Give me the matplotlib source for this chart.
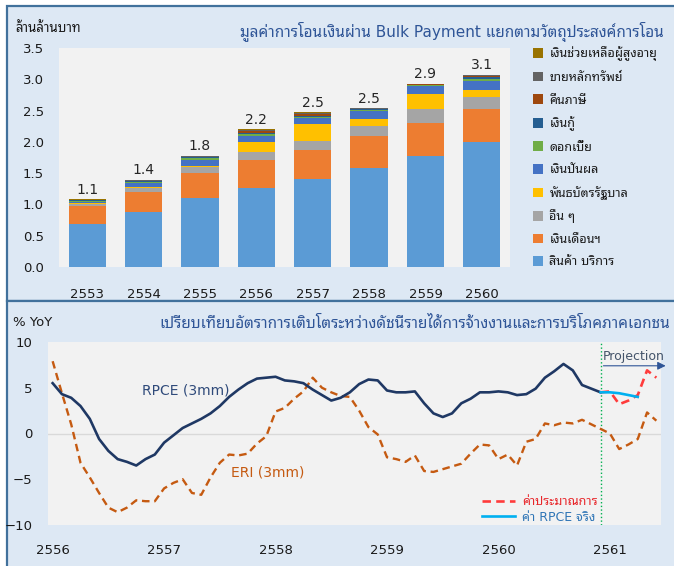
import numpy as np
import matplotlib
matplotlib.use( "Agg" )
import matplotlib.pyplot as plt
from matplotlib.patches import Rectangle

plt.rcParams[ 'font.family' ] = [ 'DejaVu Sans', 'Noto Sans Thai Looped' ]

## DATA
# Bulk Payment by purpose (ล้านล้านบาท), bottom to top of each stack
years = [ '2553', '2554', '2555', '2556', '2557', '2558', '2559', '2560' ]
goods      = [ 0.69, 0.88, 1.11, 1.27, 1.40, 1.59, 1.78, 1.99 ]
salary     = [ 0.28, 0.32, 0.39, 0.44, 0.47, 0.50, 0.52, 0.53 ]
other      = [ 0.04, 0.07, 0.10, 0.12, 0.14, 0.17, 0.23, 0.20 ]
bonds      = [ 0.005, 0.01, 0.02, 0.16, 0.27, 0.11, 0.23, 0.11 ]
dividend   = [ 0.03, 0.07, 0.09, 0.11, 0.10, 0.12, 0.13, 0.14 ]
interest   = [ 0.01, 0.015, 0.03, 0.02, 0.02, 0.02, 0.015, 0.04 ]
loan       = [ 0.01, 0.01, 0.015, 0.02, 0.02, 0.015, 0.01, 0.02 ]
tax_refund = [ 0.005, 0.005, 0.01, 0.04, 0.03, 0.005, 0.005, 0.025 ]
securities = [ 0.005, 0.005, 0.005, 0.01, 0.01, 0.005, 0.005, 0.01 ]
elderly    = [ 0.01, 0.01, 0.01, 0.01, 0.01, 0.005, 0.005, 0.01 ]

segment_names = [ 'สินค้า บริการ', 'เงินเดือนฯ', 'อื่น ๆ', 'พันธบัตรรัฐบาล', 'เงินปันผล',
                  'ดอกเบี้ย', 'เงินกู้', 'คืนภาษี', 'ขายหลักทรัพย์', 'เงินช่วยเหลือผู้สูงอายุ' ]
segment_colors = [ '#5b9bd5', '#ed7d31', '#a5a5a5', '#ffc000', '#4472c4',
                   '#70ad47', '#255e91', '#9e480e', '#636363', '#997300' ]

# Monthly growth (% YoY), Jan 2556 onwards
year_labels = [ '2556', '2557', '2558', '2559', '2560', '2561' ]
rpce = [ 5.5, 4.3, 3.9, 3.0, 1.6, -0.6, -1.9, -2.8, -3.1, -3.5, -2.8, -2.3,
         -1.0, -0.2, 0.6, 1.1, 1.6, 2.2, 3.0, 4.0, 4.8, 5.5, 6.0, 6.1,
         6.2, 5.8, 5.7, 5.5, 4.8, 4.2, 3.6, 3.9, 4.5, 5.4, 5.9, 5.8,
         4.7, 4.5, 4.5, 4.6, 3.3, 2.2, 1.8, 2.2, 3.3, 3.8, 4.5, 4.5,
         4.6, 4.5, 4.2, 4.3, 4.9, 6.1, 6.8, 7.6, 6.9, 5.3, 4.9, 4.5 ]
eri = [ 7.9, 4.4, 1.0, -3.2, -4.8, -6.5, -8.1, -8.6, -8.1, -7.3, -7.4, -7.4,
        -6.0, -5.4, -5.0, -6.5, -6.7, -4.8, -3.2, -2.3, -2.4, -2.2, -1.1, -0.3,
        2.4, 2.8, 3.8, 4.6, 6.1, 5.0, 4.5, 4.1, 4.0, 2.5, 0.7, -0.1,
        -2.6, -2.8, -3.1, -2.4, -4.1, -4.2, -3.9, -3.6, -3.3, -2.2, -1.2, -1.3,
        -2.8, -2.3, -3.5, -0.9, -0.6, 1.1, 0.9, 1.2, 1.1, 1.5, 1.0, 0.5,
        0.0, -1.7, -1.2, -0.6, 2.3, 1.4 ]
rpce_proj = [ 4.5, 4.6, 3.2, 3.6, 4.2, 6.9, 6.1 ]     # from Dec 2560
rpce_actual = [ 4.5, 4.5, 4.4, 4.2, 4.0 ]            # from Dec 2560

## FIGURE
W, H = 674, 566
fig = plt.figure( figsize=( W / 100, H / 100 ), dpi=100, facecolor='white' )

def fx( px ):
    return px / W

def fy( py ):
    return 1 - py / H

panel_bg = '#dde8f4'
border = '#41719c'
title_blue = '#2f5597'

# panel frames
fig.patches.append( Rectangle( ( fx( 7 ), fy( 301 ) ), 1, fy( 6 ) - fy( 301 ), transform=fig.transFigure,
                               facecolor=panel_bg, edgecolor=border, linewidth=1.6, zorder=-2 ) )
fig.patches.append( Rectangle( ( fx( 7 ), fy( 566 ) - 0.01 ), 1, fy( 301 ) - fy( 566 ) + 0.01, transform=fig.transFigure,
                               facecolor=panel_bg, edgecolor=border, linewidth=1.6, zorder=-2 ) )

## TOP: stacked bars
ax1 = fig.add_axes( [ fx( 59 ), fy( 267 ), fx( 510 ) - fx( 59 ), fy( 48 ) - fy( 267 ) ] )
ax1.set_facecolor( '#f2f2f2' )
x = np.arange( len( years ) )
series = [ goods, salary, other, bonds, dividend, interest, loan, tax_refund, securities, elderly ]
bottom = np.zeros( len( years ) )
handles = []
for vals, name, col in zip( series, segment_names, segment_colors ):
    b = ax1.bar( x, vals, 0.66, bottom=bottom, color=col, label=name, zorder=2 )
    handles.append( b )
    bottom += np.array( vals )

for i in range( len( years ) ):
    ax1.text( x[ i ], bottom[ i ] + 0.04, f'{bottom[ i ]:.1f}', ha='center', va='bottom',
              fontsize=10, color='#262626' )

ax1.set_xlim( -0.5, len( years ) - 0.5 )
ax1.set_ylim( 0, 3.5 )
ax1.set_yticks( np.arange( 0, 3.51, 0.5 ) )
ax1.set_yticklabels( [ f'{v:.1f}' for v in np.arange( 0, 3.51, 0.5 ) ] )
ax1.set_xticks( x )
ax1.set_xticklabels( years )
ax1.tick_params( axis='both', length=0, labelsize=9.5, colors='#1a1a1a' )
ax1.tick_params( axis='y', pad=11 )
ax1.tick_params( axis='x', pad=15 )
for s in ax1.spines.values():
    s.set_visible( False )

leg1 = ax1.legend( handles[ ::-1 ], segment_names[ ::-1 ], loc='upper left', bbox_to_anchor=( 1.04, 1.03 ),
                   frameon=False, fontsize=9, handlelength=0.8, handleheight=0.8, handletextpad=0.5,
                   labelspacing=0.77, borderaxespad=0 )
for t in leg1.get_texts():
    t.set_color( '#1a1a1a' )

fig.text( fx( 15 ), fy( 28 ), 'ล้านล้านบาท', fontsize=9.5, color='#1a1a1a', va='center', ha='left' )
fig.text( fx( 664 ), fy( 32 ), 'มูลค่าการโอนเงินผ่าน Bulk Payment แยกตามวัตถุประสงค์การโอน',
          fontsize=11, color=title_blue, va='center', ha='right' )

## BOTTOM: growth lines
ax2 = fig.add_axes( [ fx( 48 ), fy( 525 ), fx( 661 ) - fx( 48 ), fy( 342 ) - fy( 525 ) ] )
ax2.set_facecolor( '#f2f2f2' )
ax2.axhline( 0, color='#d9d9d9', linewidth=1, zorder=1 )

m_rpce = np.arange( len( rpce ) )
m_eri = np.arange( len( eri ) )
m_proj = np.arange( len( rpce ) - 1, len( rpce ) - 1 + len( rpce_proj ) )
m_act = np.arange( len( rpce ) - 1, len( rpce ) - 1 + len( rpce_actual ) )

ax2.plot( m_eri, eri, color='#c55a11', linewidth=1.7, linestyle=( 0, ( 3.2, 2 ) ), zorder=3 )
ax2.plot( m_rpce, rpce, color='#1f3864', linewidth=1.9, zorder=4 )
l_proj, = ax2.plot( m_proj, rpce_proj, color='#ff3b3b', linewidth=1.9, linestyle=( 0, ( 3.2, 2 ) ), zorder=4 )
l_act, = ax2.plot( m_act, rpce_actual, color='#00b0f0', linewidth=1.9, zorder=5 )

ax2.axvline( len( rpce ) - 1, color='#00b050', linewidth=1, linestyle=':', zorder=2 )

ax2.set_xlim( -0.5, 65.5 )
ax2.set_ylim( -10, 10 )
ax2.set_yticks( [ -10, -5, 0, 5, 10 ] )
ax2.set_xticks( np.arange( 0, 61, 12 ) )
ax2.set_xticklabels( year_labels )
ax2.tick_params( axis='both', length=0, labelsize=9.5, colors='#1a1a1a' )
ax2.tick_params( axis='y', pad=11 )
ax2.tick_params( axis='x', pad=14 )
for s in ax2.spines.values():
    s.set_visible( False )

ax2.text( 14.3, 4.7, 'RPCE (3mm)', color='#2f4a7a', fontsize=10, ha='center', va='center' )
ax2.text( 23.2, -4.3, 'ERI (3mm)', color='#c55a11', fontsize=10, ha='center', va='center' )

ax2.text( 62.6, 8.4, 'Projection', color='#44546a', fontsize=9, ha='center', va='center' )
ax2.annotate( '', xy=( 66.3, 7.4 ), xytext=( 59, 7.4 ), annotation_clip=False,
              arrowprops=dict( arrowstyle='-|>', color='#2f5597', linewidth=0.8, mutation_scale=12 ) )

leg2 = ax2.legend( [ l_proj, l_act ], [ 'ค่าประมาณการ', 'ค่า RPCE จริง' ], loc='lower left',
                   bbox_to_anchor=( 0.7, -0.02 ), frameon=False, fontsize=9, handlelength=2.6,
                   handletextpad=0.6, labelspacing=0.2, borderaxespad=0,
                   labelcolor=[ '#e8262a', '#2e75b6' ] )

fig.text( fx( 13 ), fy( 322 ), '% YoY', fontsize=9.5, color='#1a1a1a', va='center', ha='left' )
fig.text( fx( 670 ), fy( 323 ), 'เปรียบเทียบอัตราการเติบโตระหว่างดัชนีรายได้การจ้างงานและการบริโภคภาคเอกชน',
          fontsize=11, color=title_blue, va='center', ha='right' )

fig.savefig( "out.png", dpi=100, facecolor=fig.get_facecolor() )
